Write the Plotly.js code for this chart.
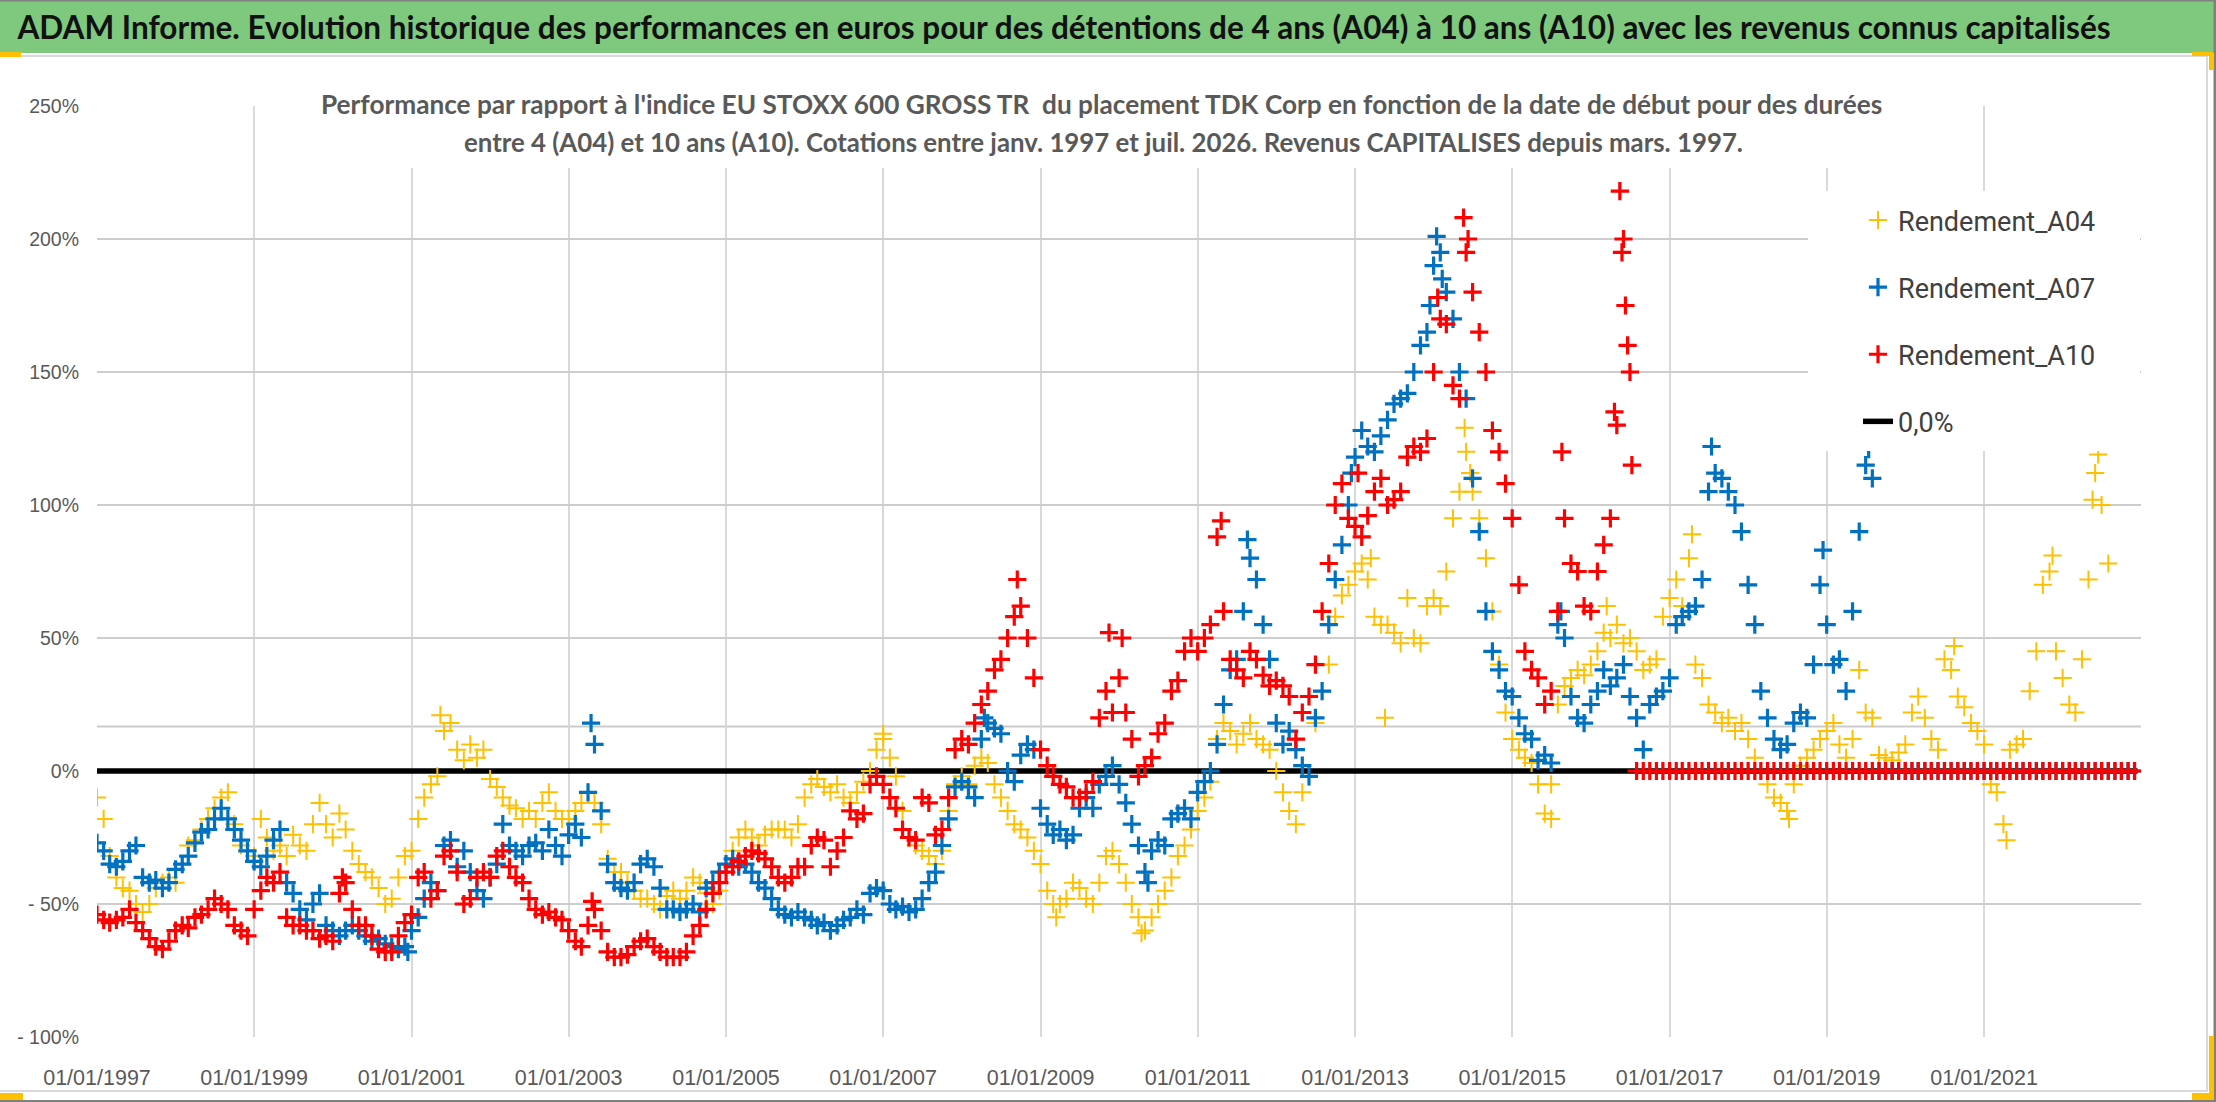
<!DOCTYPE html>
<html>
<head>
<meta charset="utf-8">
<script src="https://cdn.plot.ly/plotly-3.0.1.min.js"></script>
<style>
  html, body { margin: 0; padding: 0; background: #fff; }
  #plot { width: 2216px; height: 1102px; }
</style>
</head>
<body>
<div id="plot"></div>
<script>
// Rendements en %, un point au 1er de chaque mois, de janv. 1997 a dec. 2022
var startYear = 1997;

var rendA04 = [
  -10, -18, -32, -40, -44, -45, -50, -53, -50, -44, -42, -40,   // 1997
  -42, -35, -28, -26, -22, -18, -14, -10, -8, -20, -28, -30,    // 1998
  -32, -18, -25, -30, -28, -32, -24, -28, -30, -20, -12, -20,   // 1999
  -25, -16, -22, -30, -35, -38, -40, -44, -50, -48, -40, -32,   // 2000
  -30, -18, -10, -5, -2, 15, 18, 8, 4, 10, 5, 8,                // 2001
  -3, -6, -10, -13, -14, -18, -15, -18, -12, -8, -15, -18,      // 2002
  -18, -15, -12, -8, -12, -20, -33, -38, -38, -42, -45, -48,    // 2003
  -48, -50, -52, -47, -45, -48, -45, -40, -42, -46, -50, -45,   // 2004
  -38, -30, -25, -22, -25, -28, -24, -22, -22, -22, -25, -20,   // 2005
  -10, -5, -3, -6, -8, -5, -10, -12, -8, -4, 0, 8,              // 2006
  12, 5, -2, -15, -25, -28, -30, -32, -35, -30, -15, -5,        // 2007
  -2, -5, 2, 5, 3, -5, -10, -15, -20, -22, -25, -30,            // 2008
  -35, -45, -50, -50, -48, -42, -44, -48, -50, -42, -32, -30,   // 2009
  -35, -42, -50, -55, -60, -55, -50, -45, -40, -32, -28, -22,   // 2010
  -15, -10, -4, 12, 18, 15, 10, 14, 18, 12, 10, 8,              // 2011
  0, -8, -15, -20, -8, -2, 18, 30, 40, 58, 66, 70,              // 2012
  75, 78, 72, 58, 55, 55, 52, 48, 65, 50, 48, 62,               // 2013
  65, 62, 75, 95, 105, 120, 105, 95, 80, 60, 40, 22,            // 2014
  12, 8, 5, 3, -5, -16, -5, 25, 32, 35, 38, 36,                 // 2015
  40, 45, 52, 50, 55, 48, 50, 45, 38, 40, 42, 58,               // 2016
  65, 72, 62, 80, 40, 35, 25, 22, 18, 20, 15, 18,               // 2017
  12, 5, 0, -5, -10, -12, -15, -5, 2, 5, 8, 12,                 // 2018
  15, 18, 10, 5, 12, 38, 22, 20, 6, 5, 4, 7,                    // 2019
  10, 22, 28, 20, 12, 8, 42, 38, 28, 24, 18, 15,                // 2020
  10, -5, -8, -20, 8, 10, 12, 30, 45, 70, 75, 45,               // 2021
  35, 25, 22, 42, 72, 112, 100, 78, 0, 0, 0, 0                  // 2022
];

var rendA07 = [
  -27, -30, -35, -36, -34, -30, -28, -40, -42, -41, -44, -42,   // 1997
  -37, -35, -32, -27, -23, -22, -18, -14, -18, -22, -26, -30,   // 1998
  -34, -36, -32, -26, -22, -42, -46, -52, -56, -50, -46, -58,   // 1999
  -60, -62, -60, -58, -60, -62, -64, -63, -65, -66, -67, -66,   // 2000
  -60, -55, -48, -42, -45, -28, -26, -36, -30, -38, -45, -48,   // 2001
  -40, -35, -20, -28, -30, -32, -28, -27, -30, -22, -28, -32,   // 2002
  -24, -20, -25, -8, 10, -15, -35, -42, -44, -45, -42, -35,     // 2003
  -33, -36, -44, -52, -52, -53, -52, -50, -53, -44, -42, -38,   // 2004
  -35, -33, -36, -35, -38, -42, -44, -48, -52, -54, -55, -53,   // 2005
  -55, -56, -58, -57, -60, -58, -56, -55, -52, -54, -46, -44,   // 2006
  -45, -50, -52, -51, -53, -52, -48, -42, -38, -28, -18, -6,    // 2007
  -4, -6, -10, 12, 18, 16, 14, 0, -4, 6, 10, 8,                 // 2008
  -14, -20, -24, -22, -26, -24, -14, -10, -14, -5, -2, 2,       // 2009
  -5, -12, -20, -28, -38, -30, -26, -28, -18, -16, -14, -18,    // 2010
  -8, -4, 0, 10, 25, 38, 42, 60, 80, 72, 55, 42,                // 2011
  18, 10, 15, 8, 2, -2, 20, 30, 55, 72, 85, 100,                // 2012
  118, 128, 122, 120, 126, 132, 138, 140, 142, 150, 160, 165,   // 2013
  190, 195, 180, 170, 150, 140, 110, 90, 60, 45, 38, 30,        // 2014
  28, 20, 14, 12, 4, 6, 3, 55, 50, 28, 20, 18,                  // 2015
  25, 30, 38, 32, 35, 40, 28, 20, 8, 25, 28, 30,                // 2016
  35, 55, 58, 60, 62, 72, 105, 112, 110, 105, 100, 90,          // 2017
  70, 55, 30, 20, 12, 8, 10, 18, 22, 20, 40, 70,                // 2018
  55, 40, 42, 30, 60, 90, 115, 110, 0, 0, 0, 0,                 // 2019
  0, 0, 0, 0, 0, 0, 0, 0, 0, 0, 0, 0,                           // 2020
  0, 0, 0, 0, 0, 0, 0, 0, 0, 0, 0, 0,                           // 2021
  0, 0, 0, 0, 0, 0, 0, 0, 0, 0, 0, 0                            // 2022
];

var rendA10 = [
  -54, -56, -57, -56, -55, -52, -57, -60, -63, -66, -67, -64,   // 1997
  -60, -58, -59, -55, -54, -52, -48, -50, -52, -58, -60, -62,   // 1998
  -52, -45, -40, -42, -38, -55, -58, -58, -60, -60, -63, -62,   // 1999
  -64, -46, -42, -52, -58, -58, -62, -67, -68, -68, -62, -57,   // 2000
  -54, -40, -38, -48, -45, -32, -30, -38, -50, -48, -40, -38,   // 2001
  -40, -32, -30, -36, -40, -42, -48, -52, -54, -53, -55, -56,   // 2002
  -60, -64, -66, -58, -52, -60, -68, -70, -70, -69, -66, -64,   // 2003
  -63, -66, -68, -70, -70, -70, -68, -62, -58, -52, -46, -42,   // 2004
  -38, -36, -34, -32, -30, -31, -33, -36, -40, -42, -40, -36,   // 2005
  -36, -28, -25, -26, -36, -30, -25, -15, -18, -16, -5, -2,     // 2006
  -5, -10, -14, -22, -25, -26, -10, -12, -24, -22, -10, 8,      // 2007
  12, 10, 18, 25, 30, 38, 42, 50, 58, 62, 50, 35,               // 2008
  8, 2, -2, -5, -6, -10, -10, -8, -4, 20, 30, 22,               // 2009
  35, 22, 12, -2, 2, 5, 14, 18, 30, 34, 45, 50,                 // 2010
  45, 50, 55, 88, 60, 42, 38, 35, 45, 42, 36, 32,               // 2011
  34, 32, 28, 12, 22, 28, 40, 60, 78, 100, 108, 95,             // 2012
  92, 88, 96, 105, 110, 100, 102, 105, 118, 122, 120, 125,      // 2013
  150, 170, 168, 145, 140, 195, 180, 165, 150, 128, 120, 108,   // 2014
  95, 70, 45, 38, 35, 25, 30, 60, 95, 78, 75, 62,               // 2015
  60, 75, 85, 95, 130, 200, 150, 0, 0, 0, 0, 0,                 // 2016
  0, 0, 0, 0, 0, 0, 0, 0, 0, 0, 0, 0,                           // 2017
  0, 0, 0, 0, 0, 0, 0, 0, 0, 0, 0, 0,                           // 2018
  0, 0, 0, 0, 0, 0, 0, 0, 0, 0, 0, 0,                           // 2019
  0, 0, 0, 0, 0, 0, 0, 0, 0, 0, 0, 0,                           // 2020
  0, 0, 0, 0, 0, 0, 0, 0, 0, 0, 0, 0,                           // 2021
  0, 0, 0, 0, 0, 0, 0, 0, 0, 0, 0, 0                            // 2022
];

// points isoles lus en plus (pics et creux entre deux debuts de mois)
var extraA04Dates = ['2001-05-15', '2007-01-01', '2009-03-15', '2010-04-15', '2013-03-15', '2013-05-20',
                     '2014-05-25', '2014-06-20', '2015-07-01', '2016-03-15', '2017-04-15', '2018-07-10',
                     '2020-08-15', '2021-04-15', '2021-11-15', '2022-05-20', '2022-06-15'];
var extraA04Values = [21, 14, -55, -61, 80, 20, 129, 112, -18, 62, 89, -18, 47, -26, 81, 102, 119];

var extraA07Dates = ['2000-12-15', '2003-04-15', '2008-04-15', '2010-05-15', '2011-08-20', '2012-12-15',
                     '2013-12-15', '2014-01-15', '2014-02-10', '2015-08-15', '2017-07-15', '2018-12-15',
                     '2019-07-15'];
var extraA07Values = [-68, 18, 20, -42, 87, 112, 175, 201, 185, 60, 122, 83, 121];

var extraA10Dates = ['2000-02-15', '2003-04-20', '2008-09-15', '2009-11-15', '2010-01-15', '2011-04-20',
                     '2013-01-15', '2014-01-20', '2014-05-20', '2014-06-10', '2015-08-20', '2016-04-20',
                     '2016-05-15', '2016-05-25', '2016-06-10', '2016-06-20', '2016-07-10'];
var extraA10Values = [-40, -49, 72, 52, 50, 94, 112, 178, 208, 200, 120, 135, 218, 195, 175, 160, 115];

// ligne 0,0%
var zeroDates = ['1997-01-01', '2022-12-15'];
var zeroValues = [0, 0];

// ligne grise horizontale visible vers 16,7%
var refLevel = 16.7;

var yTicks = [-100, -50, 0, 50, 100, 150, 200, 250];
var yTickText = ['- 100%', '- 50%', '0%', '50%', '100%', '150%', '200%', '250%'];

var mainTitle = 'ADAM Informe. Evolution historique des performances en euros pour des détentions de 4 ans (A04) à 10 ans (A10) avec les revenus connus capitalisés';
var subTitle1 = "Performance par rapport à l'indice EU STOXX 600 GROSS TR  du placement TDK Corp en fonction de la date de début pour des durées";
var subTitle2 = 'entre 4 (A04) et 10 ans (A10). Cotations entre janv. 1997 et juil. 2026. Revenus CAPITALISES depuis mars. 1997.';

var dates = [];
for (var i = 0; i < rendA04.length; i++) {
  var yr = startYear + Math.floor(i / 12);
  var mo = i % 12 + 1;
  dates.push(yr + '-' + (mo < 10 ? '0' + mo : mo) + '-01');
}

// plot area in pixels, to place shapes in paper coords
var L = 97, R = 2141, T = 106, B = 1037;
function px(x) { return (x - L) / (R - L); }
function py(y) { return (B - y) / (B - T); }

function series(name, vals, exDates, exVals, color, lw, rank) {
  return {
    x: dates.concat(exDates), y: vals.concat(exVals), name: name, type: 'scatter', mode: 'markers',
    legendgroup: name, legendrank: rank,
    marker: {symbol: 'cross-thin', size: 13, color: color, line: {color: color, width: lw}}
  };
}

var data = [
  {x: zeroDates, y: zeroValues, name: '0,0%', type: 'scatter', mode: 'lines',
   legendgroup: 'zero', legendrank: 4, line: {color: '#000000', width: 5.5}},
  series('Rendement_A04', rendA04, extraA04Dates, extraA04Values, '#FFC000', 2, 1),
  series('Rendement_A07', rendA07, extraA07Dates, extraA07Values, '#0070C0', 3.2, 2),
  series('Rendement_A10', rendA10, extraA10Dates, extraA10Values, '#FF0000', 3.2, 3)
];

function rect(x0, y0, x1, y1, color, layer) {
  return {type: 'rect', xref: 'paper', yref: 'paper', x0: px(x0), x1: px(x1), y0: py(y1), y1: py(y0),
          fillcolor: color, line: {width: 0}, layer: layer || 'above'};
}

var shapes = [
  // bandeau vert du titre
  rect(0, 0, 2216, 53, '#7FC97F'),
  // cadre gris clair
  rect(0, 55, 2208, 57, '#D9D9D9'),
  rect(2206, 55, 2208, 1092, '#D9D9D9'),
  rect(0, 1090, 2208, 1092, '#D9D9D9'),
  // cadre gris fonce
  rect(0, 0, 2216, 1.5, '#808080'),
  rect(2213.5, 0, 2216, 1102, '#808080'),
  rect(0, 1100, 2216, 1102, '#808080'),
  // poignees oranges
  rect(0, 52, 21, 57, '#FFC000'),
  rect(2192, 52, 2213, 56, '#FFC000'),
  rect(2209, 52, 2213, 70, '#FFC000'),
  rect(2209, 1036, 2214, 1099, '#FFC000'),
  rect(2192, 1093, 2214, 1100, '#FFC000'),
  rect(0, 1093, 23, 1100, '#FFC000'),
  // fond blanc du sous-titre et de la legende
  rect(300, 86, 1903, 168, '#FFFFFF'),
  rect(1808, 191, 2140, 451, '#FFFFFF'),
  // ligne grise
  {type: 'line', xref: 'paper', yref: 'y', x0: 0, x1: 1, y0: refLevel, y1: refLevel,
   line: {color: '#CBCBCB', width: 2}, layer: 'below'}
];

var subFont = {family: 'Lato, Roboto, sans-serif', color: '#595959', weight: 'bold'};

var layout = {
  width: 2216,
  height: 1102,
  margin: {l: L, r: 2216 - R, t: T, b: 1102 - B, autoexpand: false},
  paper_bgcolor: '#FFFFFF',
  plot_bgcolor: '#FFFFFF',
  title: {
    text: mainTitle,
    font: {family: 'Lato, Roboto, sans-serif', size: 31.5, color: '#111111', weight: 'bold'},
    xref: 'container', yref: 'container', x: 1064 / 2216, xanchor: 'center',
    y: 1 - 28 / 1102, yanchor: 'middle'
  },
  xaxis: {
    type: 'date',
    range: ['1997-01-01', '2022-12-31'],
    tick0: '1997-01-01',
    dtick: 'M24',
    tickformat: '%d/%m/%Y',
    showgrid: true, gridcolor: '#D9D9D9', gridwidth: 2,
    zeroline: false, showline: false, ticks: '',
    ticklabelstandoff: 25,
    tickfont: {family: 'Liberation Sans, Arial, sans-serif', size: 21.5, color: '#595959'}
  },
  yaxis: {
    range: [-100, 250],
    tickvals: yTicks,
    ticktext: yTickText,
    showgrid: true, gridcolor: '#CDCDCD', gridwidth: 2,
    zeroline: false, showline: false, ticks: '',
    ticklabelstandoff: 17,
    tickfont: {family: 'Liberation Sans, Arial, sans-serif', size: 19.5, color: '#595959'}
  },
  legend: {
    x: px(1858), y: py(196), xanchor: 'left', yanchor: 'top',
    bgcolor: 'rgba(0,0,0,0)',
    traceorder: 'grouped', tracegroupgap: 29,
    font: {family: 'Roboto, sans-serif', size: 27, color: '#404040'}
  },
  showlegend: true,
  shapes: shapes,
  annotations: [
    {xref: 'paper', yref: 'paper', x: px(1101), y: py(104), xanchor: 'center', yanchor: 'middle',
     showarrow: false, text: subTitle1, font: Object.assign({size: 26.2}, subFont)},
    {xref: 'paper', yref: 'paper', x: px(1103), y: py(142), xanchor: 'center', yanchor: 'middle',
     showarrow: false, text: subTitle2, font: Object.assign({size: 25.8}, subFont)}
  ]
};

Plotly.newPlot('plot', data, layout, {displayModeBar: false, responsive: false});
</script>
</body>
</html>
